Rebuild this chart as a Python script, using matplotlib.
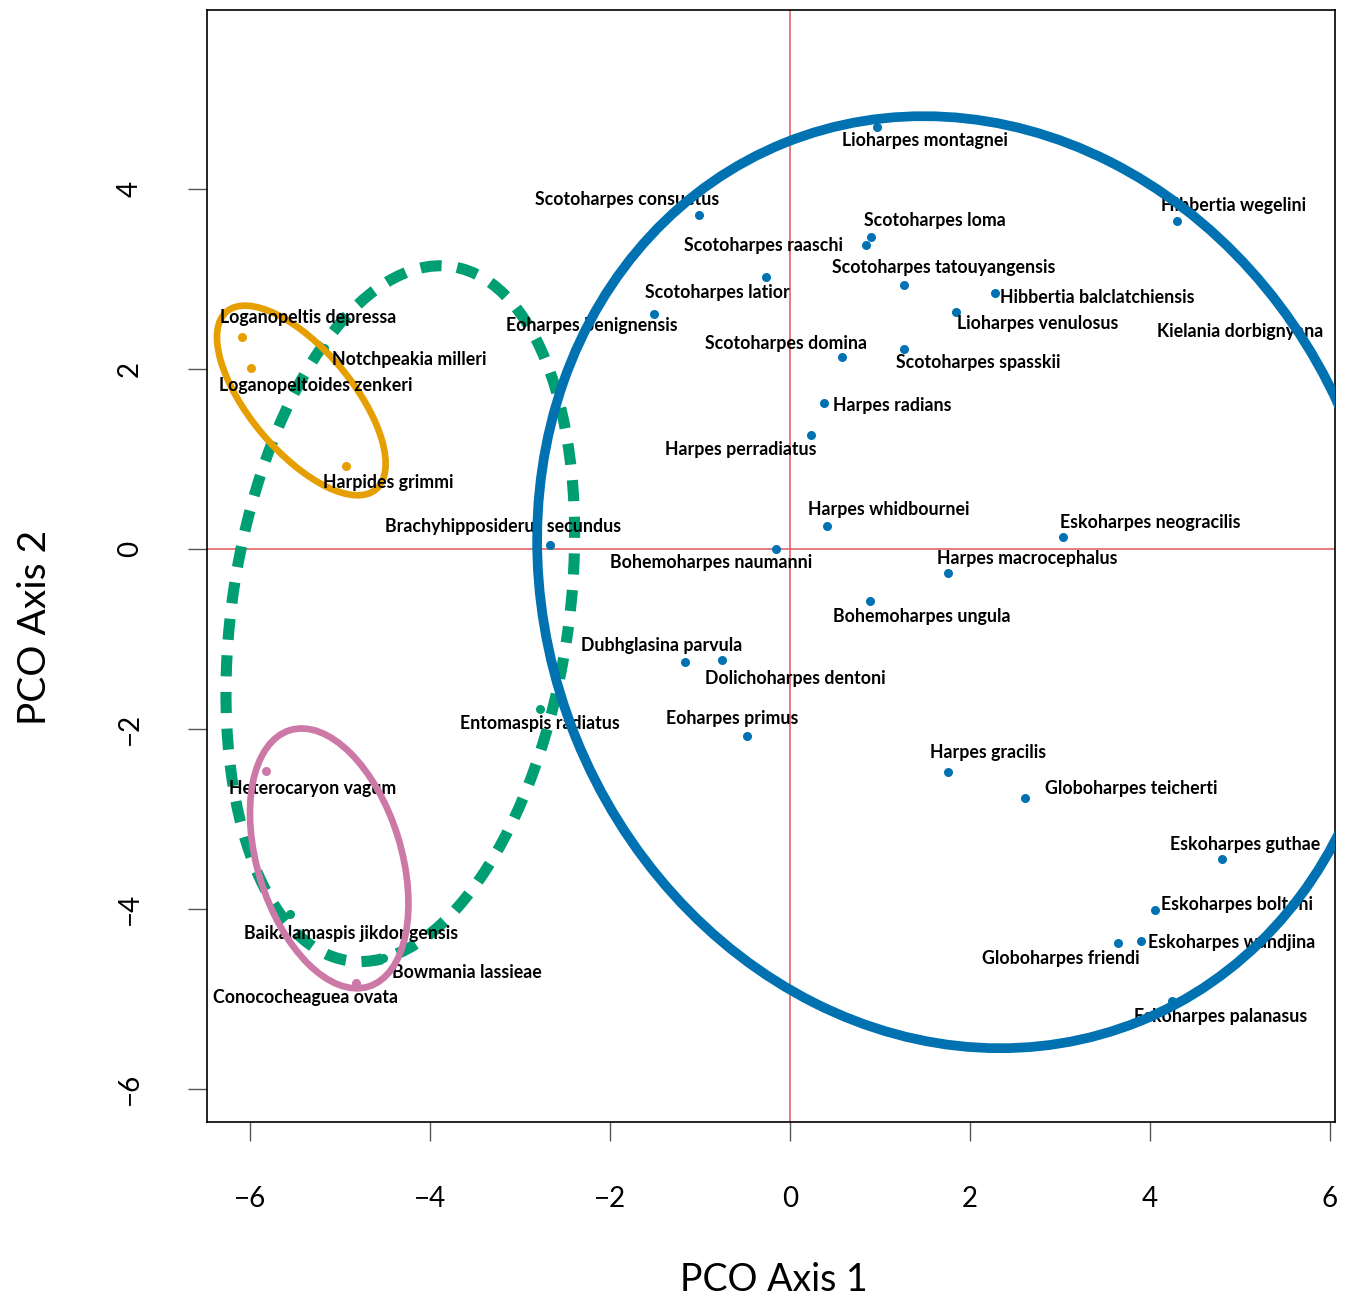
import matplotlib
matplotlib.use('Agg')
import matplotlib.pyplot as plt
from matplotlib.patches import Ellipse

# --- data ---
species = [
    'Lioharpes montagnei', 'Scotoharpes consuetus', 'Scotoharpes loma', 'Scotoharpes raaschi',
    'Scotoharpes tatouyangensis', 'Scotoharpes latior', 'Eoharpes benignensis',
    'Hibbertia balclatchiensis', 'Lioharpes venulosus', 'Hibbertia wegelini',
    'Kielania dorbignyana', 'Scotoharpes domina', 'Scotoharpes spasskii', 'Harpes radians',
    'Harpes perradiatus', 'Harpes whidbournei', 'Eskoharpes neogracilis',
    'Brachyhipposiderus secundus', 'Bohemoharpes naumanni', 'Harpes macrocephalus',
    'Bohemoharpes ungula', 'Dubhglasina parvula', 'Dolichoharpes dentoni', 'Eoharpes primus',
    'Harpes gracilis', 'Globoharpes teicherti', 'Eskoharpes guthae', 'Eskoharpes boltoni',
    'Eskoharpes wandjina', 'Globoharpes friendi', 'Eskoharpes palanasus',
    'Loganopeltis depressa', 'Loganopeltoides zenkeri', 'Harpides grimmi', 'Notchpeakia milleri',
    'Entomaspis radiatus', 'Baikalamaspis jikdongensis', 'Bowmania lassieae',
    'Heterocaryon vagum', 'Conococheaguea ovata',
]
pco1 = [0.97, -1.01, 0.90, 0.85, 1.27, -0.27, -1.51, 2.28, 1.85, 4.30,
        5.55, 0.58, 1.27, 0.38, 0.23, 0.41, 3.03, -2.67, -0.16, 1.76,
        0.89, -1.17, -0.76, -0.48, 1.76, 2.61, 4.80, 4.06, 3.90, 3.65, 4.25,
        -6.09, -5.99, -4.93, -5.18,
        -2.78, -5.56, -4.52,
        -5.82, -4.82]
pco2 = [4.69, 3.71, 3.47, 3.38, 2.93, 3.02, 2.61, 2.84, 2.63, 3.64,
        2.56, 2.13, 2.22, 1.62, 1.27, 0.26, 0.13, 0.04, 0.00, -0.27,
        -0.58, -1.26, -1.24, -2.08, -2.48, -2.77, -3.45, -4.01, -4.36, -4.38, -5.03,
        2.35, 2.01, 0.92, 2.23,
        -1.78, -4.06, -4.55,
        -2.47, -4.82]
group = [1] * 31 + [2] * 3 + [3] * 4 + [4] * 2

# group ellipses: centre x, centre y, width, height, angle (deg)
ellipse_groups = [3, 2, 1, 4]
ellipse_cx = [-4.33, -5.43, 1.91, -5.12]
ellipse_cy = [-0.72, 1.65, -0.37, -3.44]
ellipse_w = [7.80, 2.58, 9.25, 2.98]
ellipse_h = [3.74, 1.14, 10.53, 1.60]
ellipse_ang = [81.5, -50, 22, 107]

colors = {1: '#0072B2', 2: '#E69F00', 3: '#009E73', 4: '#CC79A7'}

# label offsets in pixels (dx right, dy down) from each point
label_off = [(48, 14), (-72, -16), (64, -16), (-103, 1), (39, -18), (-48, 15), (-62, 11),
             (102, 4), (81, 11), (57, -16), (-49, 13), (-56, -14), (74, 13), (68, 2),
             (-70, 15), (62, -16), (88, -15), (-47, -19), (-64, 14), (79, -15), (52, 15),
             (-23, -17), (74, 18), (-15, -18), (40, -20), (106, -10), (23, -15), (82, -5),
             (91, 1), (-58, 16), (48, 15), (66, -20), (65, 17), (42, 16), (85, 11),
             (0, 14), (61, 19), (84, 14), (46, 17), (-51, 15)]

label_font = ['Lato', 'DejaVu Sans']
axis_font = ['Lato', 'DejaVu Sans']

fig = plt.figure(figsize=(13.55, 13.04), dpi=100)
ax = fig.add_axes([207 / 1355, 1 - 1122 / 1304, 1128 / 1355, 1112 / 1304])

ax.axhline(0, color='#e06666', lw=1.2, zorder=1)
ax.axvline(0, color='#e06666', lw=1.2, zorder=1)

for g in [1, 2, 3, 4]:
    xs = [x for x, k in zip(pco1, group) if k == g]
    ys = [y for y, k in zip(pco2, group) if k == g]
    ax.plot(xs, ys, 'o', ms=6.5, color=colors[g], mec='none', zorder=2)

for g, cx, cy, w, h, a in zip(ellipse_groups, ellipse_cx, ellipse_cy, ellipse_w, ellipse_h, ellipse_ang):
    if g == 3:
        e = Ellipse((cx, cy), w, h, angle=a, fill=False, ec=colors[g], lw=8,
                    ls=(0.8, (1.9, 1.4)), zorder=3)
    elif g == 2:
        e = Ellipse((cx, cy), w, h, angle=a, fill=False, ec=colors[g], lw=4.8, zorder=3)
    else:
        e = Ellipse((cx, cy), w, h, angle=a, fill=False, ec=colors[g], lw=7 if g == 1 else 4.8,
                    zorder=5)
    ax.add_patch(e)

for name, x, y, (dx, dy) in zip(species, pco1, pco2, label_off):
    ax.annotate(name, (x, y), xytext=(dx, -dy), textcoords='offset pixels',
                ha='center', va='center', fontsize=12.8, fontweight='bold',
                family=label_font, color='black', zorder=4)

ax.set_xlim(-6.478, 6.056)
ax.set_ylim(-6.37, 5.99)
ax.set_xticks([-6, -4, -2, 0, 2, 4, 6])
ax.set_yticks([-6, -4, -2, 0, 2, 4])
ax.tick_params(length=14, width=1, color='#555555', labelsize=20, pad=32)
for lbl in ax.get_xticklabels() + ax.get_yticklabels():
    lbl.set_family(axis_font)
plt.setp(ax.get_yticklabels(), rotation=90, va='center')
for s in ax.spines.values():
    s.set_linewidth(1.2)

fig.text(774 / 1355, 1 - 1280 / 1304, 'PCO Axis 1', ha='center', va='center',
         fontsize=27, family=axis_font)
fig.text(35 / 1355, 1 - 627 / 1304, 'PCO Axis 2', ha='center', va='center',
         fontsize=28, rotation=90, family=axis_font)

plt.savefig('out.png', dpi=100)
plt.close()
